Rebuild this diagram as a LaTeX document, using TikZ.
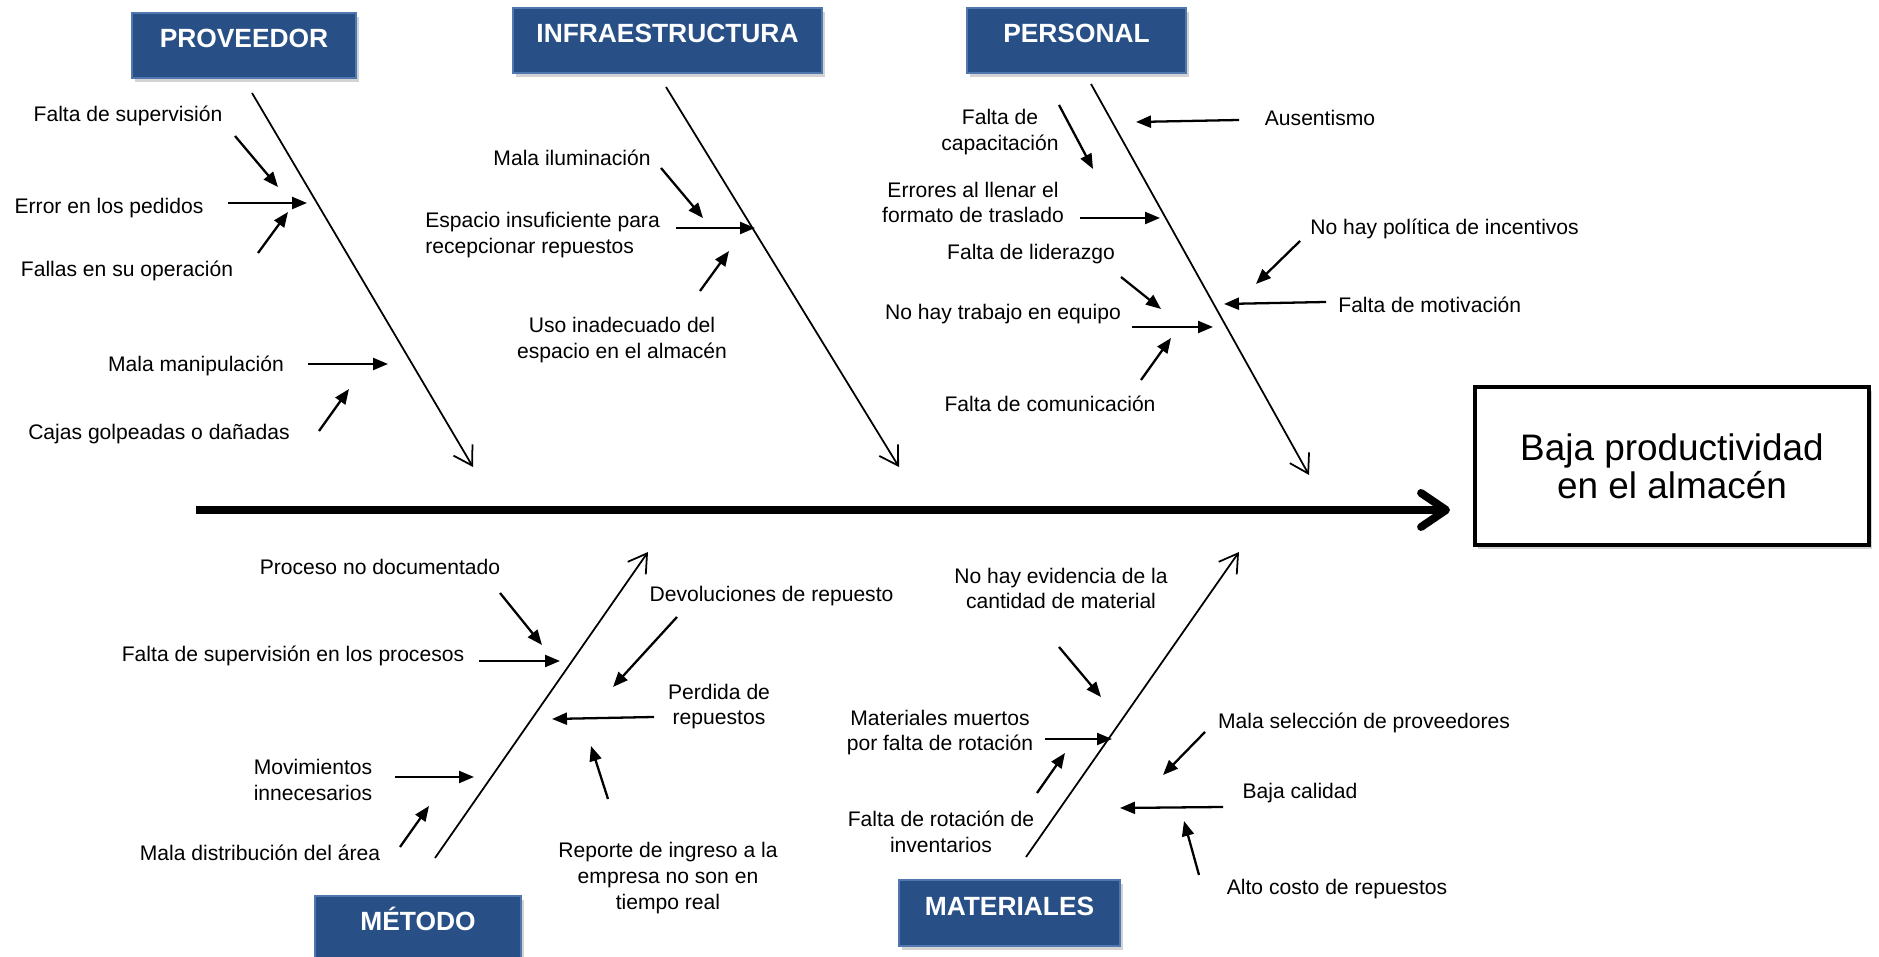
\documentclass[tikz,border=0pt]{standalone}
\usepackage{fontspec}
\setmainfont{Liberation Sans}
\usetikzlibrary{arrows.meta,shadows}

\definecolor{cajaazul}{RGB}{40,80,135}
\definecolor{bordeazul}{RGB}{80,120,175}

\tikzset{
  categoria/.style={draw=bordeazul, line width=1.2pt, fill=cajaazul, text=white,
    font=\fontsize{15}{18}\selectfont\bfseries, inner ysep=0pt,
    text height=19.9pt, text depth=17.5pt,
    drop shadow={shadow xshift=0.05cm, shadow yshift=-0.08cm, opacity=0.35}},
  causa/.style={font=\fontsize{12}{14.6}\selectfont, align=center, inner sep=0pt},
  flecha/.style={-{Triangle[length=3mm,width=2.4mm]}, line width=1.3pt},
  espina/.style={-{Straight Barb[length=3.6mm,width=4.4mm]}, line width=1pt}
}

\begin{document}
\begin{tikzpicture}
  \useasboundingbox (0,0) rectangle (37.58,19.14);

  % categorias
  \node[categoria, minimum width=4.48cm] (prov) at (4.88,18.23) {PROVEEDOR};
  \node[categoria, minimum width=6.18cm] (infra) at (13.35,18.33) {INFRAESTRUCTURA};
  \node[categoria, minimum width=4.38cm] (pers) at (21.53,18.33) {PERSONAL};
  \node[categoria, minimum width=4.12cm] (metodo) at (8.36,0.57) {MÉTODO};
  \node[categoria, minimum width=4.42cm] (mat) at (20.19,0.88) {MATERIALES};

  % efecto
  \node[draw, line width=2.3pt, fill=white, minimum width=7.88cm, minimum height=3.16cm,
    align=center, font=\fontsize{21}{21.6}\selectfont,
    drop shadow={shadow xshift=0.06cm, shadow yshift=-0.08cm, opacity=0.35}]
    (efecto) at (33.44,9.82) {Baja productividad\\en el almacén};

  % espina central
  \coordinate (cola) at (3.92,8.94);
  \coordinate (punta) at (29.0,8.94);
  \draw[line width=4.5pt, -{Straight Barb[round,length=5mm,width=6.8mm]}] (cola) -- (punta);

  % espinas
  \coordinate (e1a) at (5.04,17.28);  \coordinate (e1b) at (9.46,9.80);
  \coordinate (e2a) at (13.32,17.40); \coordinate (e2b) at (17.98,9.80);
  \coordinate (e3a) at (21.82,17.46); \coordinate (e3b) at (26.18,9.64);
  \coordinate (e4a) at (8.70,1.98);   \coordinate (e4b) at (12.96,8.10);
  \coordinate (e5a) at (20.52,2.00);  \coordinate (e5b) at (24.78,8.10);
  \foreach \n in {e1,e2,e3,e4,e5}
    \draw[espina] (\n a) -- (\n b);

  % proveedor
  \node[causa] (p1) at (2.56,16.82) {Falta de supervisión};
  \node[causa] (p2) at (2.18,14.98) {Error en los pedidos};
  \node[causa] (p3) at (2.54,13.72) {Fallas en su operación};
  \node[causa] (p4) at (3.92,11.82) {Mala manipulación};
  \node[causa] (p5) at (3.18,10.46) {Cajas golpeadas o dañadas};
  \coordinate (p1a) at (4.70,16.42); \coordinate (p1b) at (5.56,15.40);
  \coordinate (p2a) at (4.56,15.08); \coordinate (p2b) at (6.14,15.08);
  \coordinate (p3a) at (5.16,14.08); \coordinate (p3b) at (5.76,14.90);
  \coordinate (p4a) at (6.16,11.86); \coordinate (p4b) at (7.76,11.86);
  \coordinate (p5a) at (6.38,10.52); \coordinate (p5b) at (6.98,11.36);

  % infraestructura
  \node[causa] (i1) at (11.44,15.98) {Mala iluminación};
  \node[causa, anchor=west, align=left] (i2) at (8.50,14.44) {Espacio insuficiente para\\recepcionar repuestos};
  \node[causa] (i3) at (12.44,12.34) {Uso inadecuado del\\espacio en el almacén};
  \coordinate (i1a) at (13.22,15.78); \coordinate (i1b) at (14.06,14.78);
  \coordinate (i2a) at (13.52,14.58); \coordinate (i2b) at (15.10,14.58);
  \coordinate (i3a) at (14.00,13.32); \coordinate (i3b) at (14.58,14.12);

  % personal
  \node[causa] (r1) at (20.00,16.50) {Falta de\\capacitación};
  \node[causa] (r2) at (26.40,16.78) {Ausentismo};
  \node[causa] (r3) at (19.46,15.09) {Errores al llenar el\\formato de traslado};
  \node[causa] (r4) at (20.62,14.06) {Falta de liderazgo};
  \node[causa] (r5) at (20.06,12.86) {No hay trabajo en equipo};
  \node[causa] (r6) at (21.00,11.06) {Falta de comunicación};
  \node[causa, anchor=west] (r7) at (26.20,14.56) {No hay política de incentivos};
  \node[causa, anchor=west] (r8) at (26.76,13.04) {Falta de motivación};
  \coordinate (r1a) at (21.18,17.04); \coordinate (r1b) at (21.86,15.76);
  \coordinate (r2a) at (24.78,16.74); \coordinate (r2b) at (22.72,16.70);
  \coordinate (r3a) at (21.60,14.78); \coordinate (r3b) at (23.20,14.78);
  \coordinate (r4a) at (22.42,13.60); \coordinate (r4b) at (23.22,12.96);
  \coordinate (r5a) at (22.64,12.60); \coordinate (r5b) at (24.26,12.60);
  \coordinate (r6a) at (22.82,11.54); \coordinate (r6b) at (23.42,12.38);
  \coordinate (r7a) at (26.00,14.32); \coordinate (r7b) at (25.12,13.46);
  \coordinate (r8a) at (26.52,13.10); \coordinate (r8b) at (24.48,13.06);

  % metodo
  \node[causa] (m1) at (7.60,7.80) {Proceso no documentado};
  \node[causa] (m2) at (5.86,6.02) {Falta de supervisión en los procesos};
  \node[causa] (m3) at (15.43,7.22) {Devoluciones de repuesto};
  \node[causa] (m4) at (14.38,5.01) {Perdida de\\repuestos};
  \node[causa] (m5) at (6.26,3.54) {Movimientos\\innecesarios};
  \node[causa] (m6) at (5.20,2.08) {Mala distribución del área};
  \node[causa] (m7) at (13.36,1.58) {Reporte de ingreso a la\\empresa no son en\\tiempo real};
  \coordinate (m1a) at (10.00,7.28); \coordinate (m1b) at (10.84,6.24);
  \coordinate (m2a) at (9.58,5.92);  \coordinate (m2b) at (11.20,5.92);
  \coordinate (m3a) at (13.54,6.80); \coordinate (m3b) at (12.26,5.40);
  \coordinate (m4a) at (13.08,4.80); \coordinate (m4b) at (11.04,4.76);
  \coordinate (m5a) at (7.90,3.60);  \coordinate (m5b) at (9.48,3.60);
  \coordinate (m6a) at (8.00,2.20);  \coordinate (m6b) at (8.58,3.02);
  \coordinate (m7a) at (12.16,3.16); \coordinate (m7b) at (11.82,4.22);

  % materiales
  \node[causa] (t1) at (21.22,7.37) {No hay evidencia de la\\cantidad de material};
  \node[causa] (t2) at (18.80,4.49) {Materiales muertos\\por falta de rotación};
  \node[causa] (t3) at (18.82,2.50) {Falta de rotación de\\inventarios};
  \node[causa] (t4) at (27.28,4.68) {Mala selección de proveedores};
  \node[causa] (t5) at (26.00,3.28) {Baja calidad};
  \node[causa] (t6) at (26.74,1.36) {Alto costo de repuestos};
  \coordinate (t1a) at (21.18,6.20); \coordinate (t1b) at (22.02,5.20);
  \coordinate (t2a) at (20.90,4.36); \coordinate (t2b) at (22.24,4.36);
  \coordinate (t3a) at (20.74,3.28); \coordinate (t3b) at (21.30,4.08);
  \coordinate (t4a) at (24.10,4.50); \coordinate (t4b) at (23.26,3.64);
  \coordinate (t5a) at (24.46,3.00); \coordinate (t5b) at (22.40,2.98);
  \coordinate (t6a) at (23.98,1.64); \coordinate (t6b) at (23.68,2.72);

  \foreach \n in {p1,p2,p3,p4,p5,i1,i2,i3,r1,r2,r3,r4,r5,r6,r7,r8,
                  m1,m2,m3,m4,m5,m6,m7,t1,t2,t3,t4,t5,t6}
    \draw[flecha] (\n a) -- (\n b);
\end{tikzpicture}
\end{document}
